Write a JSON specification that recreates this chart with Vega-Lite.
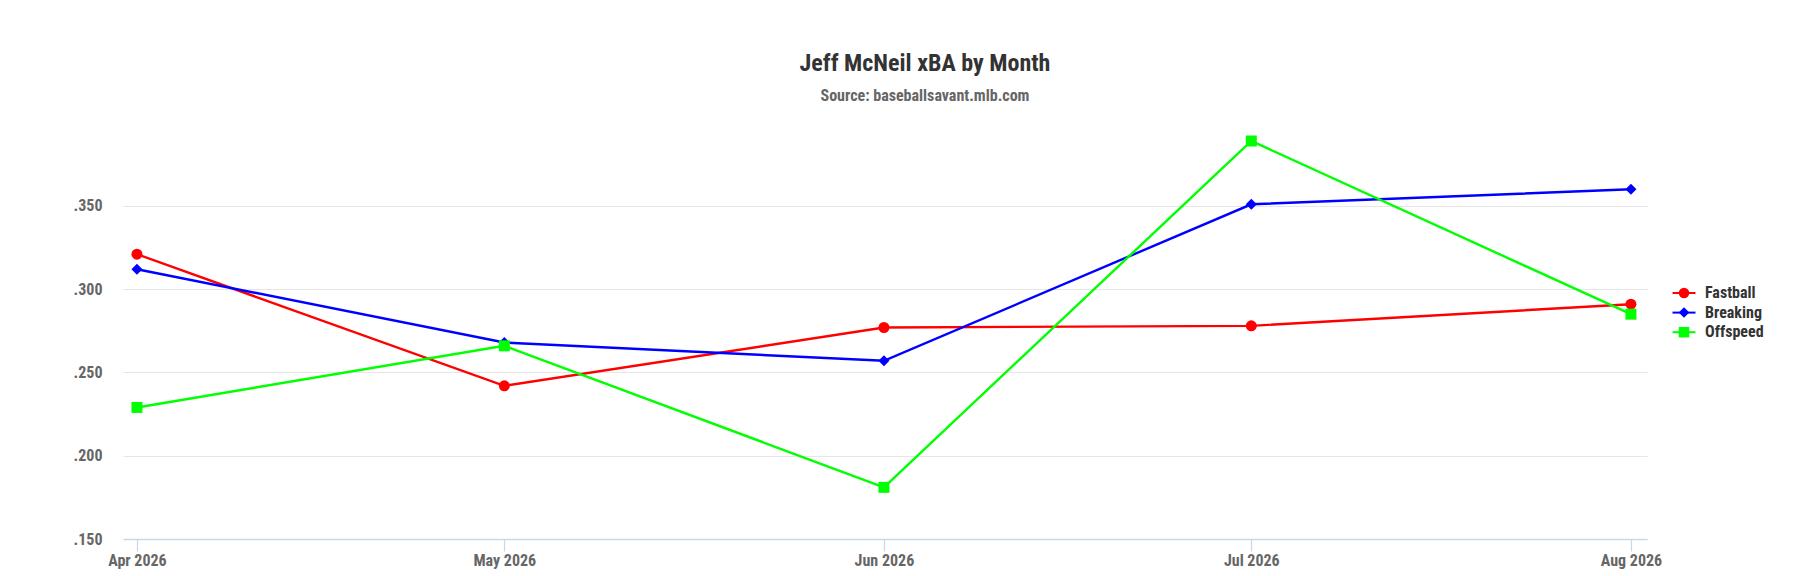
{
  "$schema": "https://vega.github.io/schema/vega-lite/v6.json",
  "autosize": {"type": "none"},
  "padding": {"left": 123, "top": 136, "right": 159, "bottom": 37},
  "width": 1524,
  "height": 403,
  "background": "white",
  "config": {
    "font": "'Roboto Condensed', 'Liberation Sans Narrow', 'DejaVu Sans Condensed', Roboto, sans-serif",
    "view": {"stroke": null}
  },
  "title": {
    "text": "Jeff McNeil xBA by Month",
    "subtitle": "Source: baseballsavant.mlb.com",
    "anchor": "middle",
    "dx": 40,
    "offset": 31,
    "fontSize": 24,
    "fontWeight": "bold",
    "color": "#333333",
    "subtitleFontSize": 16,
    "subtitleFontWeight": "bold",
    "subtitleColor": "#666666",
    "subtitlePadding": 12
  },
  "data": {
    "values": [
      {"month": "2026-04-01T00:00:00", "pitch": "Fastball", "xba": 0.321},
      {"month": "2026-05-01T00:00:00", "pitch": "Fastball", "xba": 0.242},
      {"month": "2026-06-01T00:00:00", "pitch": "Fastball", "xba": 0.277},
      {"month": "2026-07-01T00:00:00", "pitch": "Fastball", "xba": 0.278},
      {"month": "2026-08-01T00:00:00", "pitch": "Fastball", "xba": 0.291},
      {"month": "2026-04-01T00:00:00", "pitch": "Breaking", "xba": 0.312},
      {"month": "2026-05-01T00:00:00", "pitch": "Breaking", "xba": 0.268},
      {"month": "2026-06-01T00:00:00", "pitch": "Breaking", "xba": 0.257},
      {"month": "2026-07-01T00:00:00", "pitch": "Breaking", "xba": 0.351},
      {"month": "2026-08-01T00:00:00", "pitch": "Breaking", "xba": 0.360},
      {"month": "2026-04-01T00:00:00", "pitch": "Offspeed", "xba": 0.229},
      {"month": "2026-05-01T00:00:00", "pitch": "Offspeed", "xba": 0.266},
      {"month": "2026-06-01T00:00:00", "pitch": "Offspeed", "xba": 0.181},
      {"month": "2026-07-01T00:00:00", "pitch": "Offspeed", "xba": 0.389},
      {"month": "2026-08-01T00:00:00", "pitch": "Offspeed", "xba": 0.285}
    ]
  },
  "encoding": {
    "x": {
      "field": "month",
      "type": "temporal",
      "title": null,
      "scale": {
        "nice": false,
        "domain": [
          {"year": 2026, "month": 3, "date": 30, "hours": 20, "minutes": 40},
          {"year": 2026, "month": 8, "date": 2, "hours": 7, "minutes": 30}
        ]
      },
      "axis": {
        "format": "%b %Y",
        "tickCount": {"interval": "month", "step": 1},
        "grid": false,
        "domainColor": "#ccd6eb",
        "domainWidth": 1.5,
        "tickColor": "#ccd6eb",
        "tickSize": 12,
        "tickWidth": 1.2,
        "labelFlush": false,
        "labelPadding": 1,
        "labelFontSize": 16,
        "labelFontWeight": "bold",
        "labelColor": "#666666"
      }
    },
    "y": {
      "field": "xba",
      "type": "quantitative",
      "title": null,
      "scale": {"domain": [0.15, 0.392], "nice": false, "zero": false},
      "axis": {
        "values": [0.15, 0.2, 0.25, 0.3, 0.35],
        "labelExpr": "substring(format(datum.value, '.3f'), 1)",
        "domain": false,
        "ticks": false,
        "tickSize": 0,
        "labelPadding": 21,
        "labelFontSize": 16,
        "labelFontWeight": "bold",
        "labelColor": "#666666",
        "gridColor": {"condition": {"test": "datum.value < 0.16", "value": "#ccd6eb"}, "value": "#e6e6e6"},
        "gridWidth": 1.2
      }
    }
  },
  "layer": [
    {
      "mark": {"type": "line", "strokeWidth": 2.4},
      "encoding": {
        "stroke": {
          "field": "pitch",
          "type": "nominal",
          "title": null,
          "scale": {
            "domain": ["Offspeed", "Breaking", "Fastball"],
            "range": ["#00ff00", "#0000ff", "#ff0000"]
          },
          "legend": {
            "orient": "none",
            "legendX": 1553,
            "legendY": 149,
            "padding": 0,
            "values": ["Fastball", "Breaking", "Offspeed"],
            "symbolType": "M-2.09,0H2.09",
            "symbolSize": 121,
            "symbolStrokeWidth": 2,
            "labelOffset": 13,
            "rowPadding": 3.6,
            "labelFontSize": 16,
            "labelFontWeight": "bold",
            "labelOpacity": 0,
            "labelColor": "#333333"
          }
        }
      }
    },
    {
      "mark": {"type": "point", "filled": true, "opacity": 1, "size": 121},
      "encoding": {
        "color": {
          "field": "pitch",
          "type": "nominal",
          "title": null,
          "scale": {
            "domain": ["Fastball", "Breaking", "Offspeed"],
            "range": ["#ff0000", "#0000ff", "#00ff00"]
          },
          "legend": {
            "orient": "none",
            "legendX": 1553,
            "legendY": 149,
            "padding": 0,
            "symbolSize": 110,
            "labelOffset": 13,
            "rowPadding": 3.6,
            "labelFontSize": 16,
            "labelFontWeight": "bold",
            "labelColor": "#333333"
          }
        },
        "shape": {
          "field": "pitch",
          "type": "nominal",
          "scale": {
            "domain": ["Fastball", "Breaking", "Offspeed"],
            "range": ["circle", "diamond", "square"]
          },
          "legend": null
        }
      }
    }
  ]
}
